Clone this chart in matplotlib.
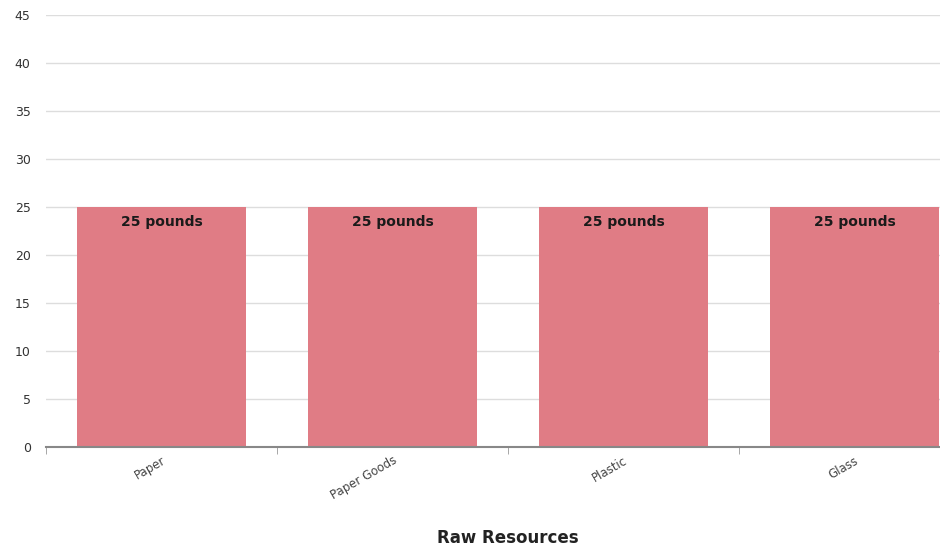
import matplotlib.pyplot as plt
import numpy as np

categories = ['Paper', 'Paper Goods', 'Plastic', 'Glass']
values = [25, 25, 25, 25]
bar_labels = ['25 pounds', '25 pounds', '25 pounds', '25 pounds']
y_ticks = [0, 5, 10, 15, 20, 25, 30, 35, 40, 45]

fig = plt.figure(figsize=(9.4, 5.48), dpi=100)
ax = fig.add_axes([46 / 940, 101 / 548, 924 / 940, 432 / 548])

x = np.arange(len(categories))
bars = ax.bar(x, values, width=0.73, color='#e07c85', zorder=2)

ax.set_xlim(-0.5, len(categories) - 0.5)
ax.set_ylim(0, 45)
ax.set_yticks(y_ticks)
ax.yaxis.grid(True, color='#dddddd', linewidth=1, zorder=0)
ax.tick_params(axis='y', length=0, labelsize=9, labelcolor='#333333', pad=11)

ax.set_xticks(x)
ax.set_xticklabels(categories, rotation=30, ha='right', rotation_mode='anchor',
                   fontsize=8.5, color='#444444')
ax.tick_params(axis='x', which='major', length=0, pad=5)
ax.set_xticks(np.arange(len(categories)) - 0.5, minor=True)
ax.tick_params(axis='x', which='minor', length=5, color='#999999')

for s in ['top', 'right', 'left']:
    ax.spines[s].set_visible(False)
ax.spines['bottom'].set_color('#888888')
ax.spines['bottom'].set_linewidth(1.5)
ax.spines['bottom'].set_zorder(3)

for b, lab in zip(bars, bar_labels):
    ax.text(b.get_x() + b.get_width() / 2, b.get_height() - 0.8, lab,
            ha='center', va='top', fontsize=10, fontweight='bold', color='#1a1a1a', zorder=4)

fig.text(508 / 940, 10 / 548, 'Raw Resources', ha='center', va='center',
         fontsize=12, fontweight='bold', color='#222222')

fig.savefig('out.png', dpi=100)
